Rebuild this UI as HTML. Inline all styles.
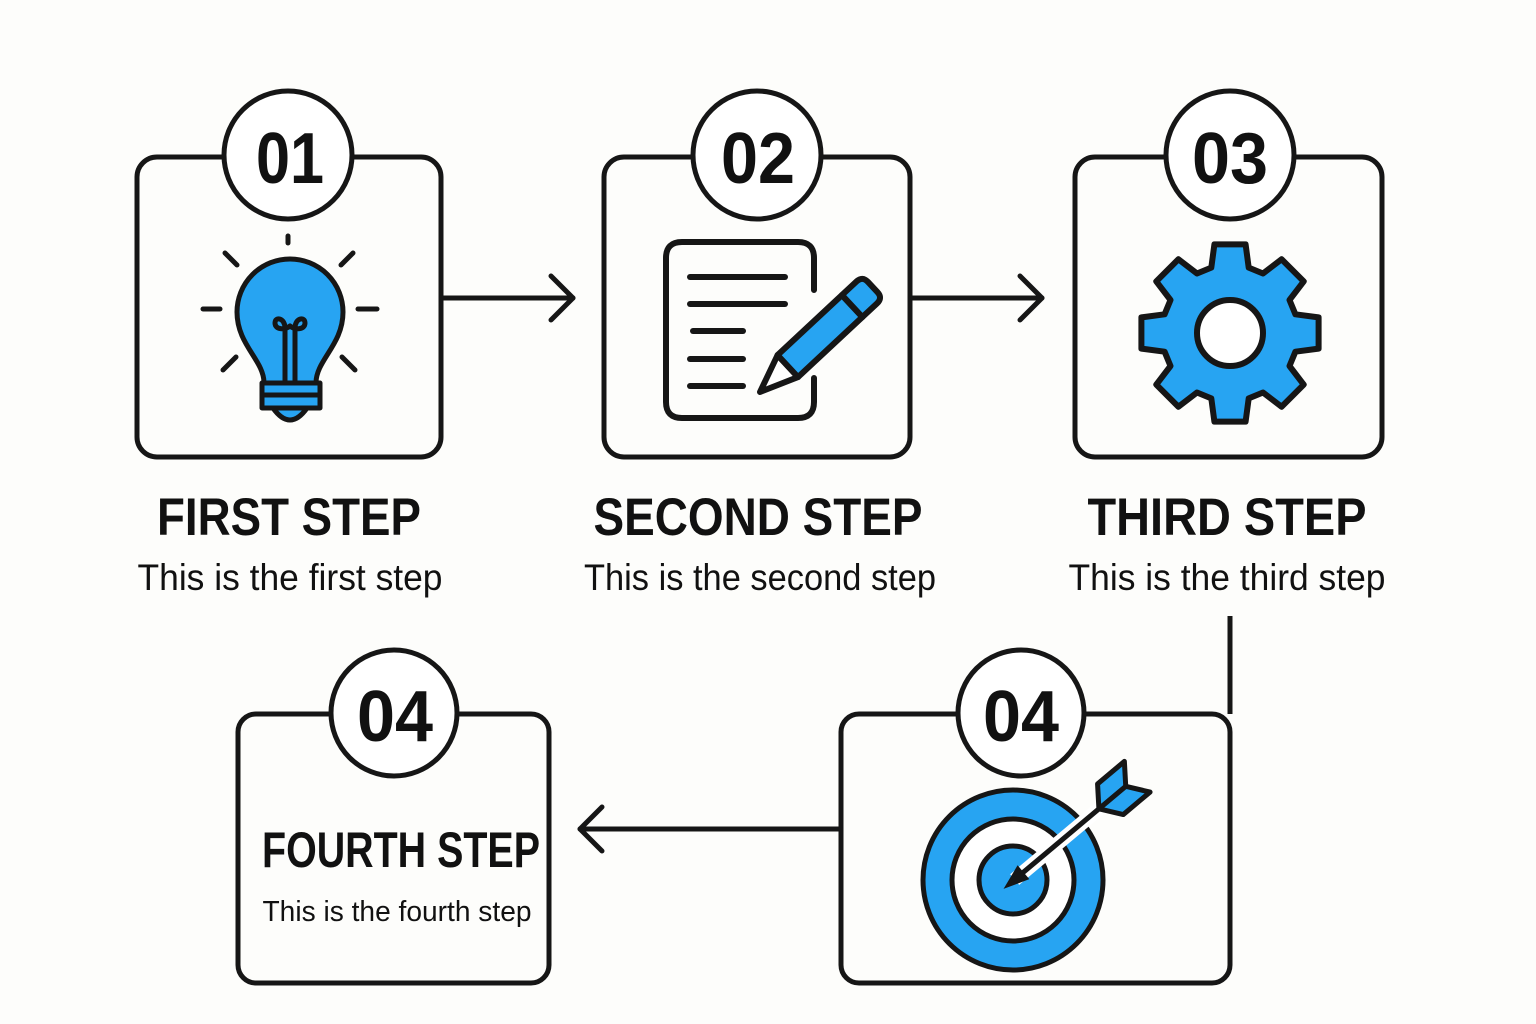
<!DOCTYPE html>
<html><head><meta charset="utf-8"><style>
html,body{margin:0;padding:0;background:#fdfdfb;}
svg{display:block}
text{font-family:"Liberation Sans Narrow","Liberation Sans",sans-serif;fill:#111;}
.t{font-weight:bold;font-size:53px;}
.s{font-size:37px;}
.n{font-weight:bold;font-size:72px;}
</style></head><body>
<svg width="1536" height="1024" viewBox="0 0 1536 1024" xmlns="http://www.w3.org/2000/svg">
<rect width="1536" height="1024" fill="#fdfdfb"/>
<g fill="none" stroke="#161616" stroke-width="5" stroke-linecap="round" stroke-linejoin="round">
 <!-- boxes -->
 <rect x="137" y="157" width="304" height="300" rx="20"/>
 <rect x="604" y="157" width="306" height="300" rx="20"/>
 <rect x="1075" y="157" width="307" height="300" rx="20"/>
 <rect x="238" y="714" width="311" height="269" rx="18"/>
 <rect x="841" y="714" width="389" height="269" rx="18"/>
 <!-- connectors -->
 <line x1="441" y1="298" x2="573" y2="298"/><polyline points="551,276 573,298 551,320"/>
 <line x1="910" y1="298" x2="1042" y2="298"/><polyline points="1020,276 1042,298 1020,320"/>
 <line x1="1230" y1="616" x2="1230" y2="714" stroke-linecap="butt"/>
 <line x1="841" y1="829" x2="580" y2="829"/><polyline points="602,807 580,829 602,851"/>
</g>
<!-- circles -->
<g fill="#fff" stroke="#161616" stroke-width="5">
 <circle cx="288" cy="155" r="64"/>
 <circle cx="757" cy="155" r="64"/>
 <circle cx="1230" cy="155" r="64"/>
 <circle cx="394" cy="713" r="63"/>
 <circle cx="1021" cy="713" r="63"/>
</g>
<text class="n" x="290" y="183" text-anchor="middle" textLength="68" lengthAdjust="spacingAndGlyphs">01</text>
<text class="n" x="758" y="183" text-anchor="middle" textLength="74" lengthAdjust="spacingAndGlyphs">02</text>
<text class="n" x="1230" y="183" text-anchor="middle" textLength="76" lengthAdjust="spacingAndGlyphs">03</text>
<text class="n" x="395" y="741" text-anchor="middle" textLength="76" lengthAdjust="spacingAndGlyphs">04</text>
<text class="n" x="1021" y="741" text-anchor="middle" textLength="76" lengthAdjust="spacingAndGlyphs">04</text>

<!-- bulb -->
<g stroke="#161616" stroke-width="5" stroke-linecap="round" stroke-linejoin="round">
 <g fill="none">
  <line x1="288" y1="236" x2="288" y2="243"/>
  <line x1="225" y1="253" x2="237" y2="265"/><line x1="353" y1="253" x2="341" y2="265"/>
  <line x1="203" y1="309" x2="220" y2="309"/><line x1="358" y1="309" x2="377" y2="309"/>
  <line x1="223" y1="370" x2="236" y2="357"/><line x1="355" y1="370" x2="342" y2="357"/>
 </g>
 <path d="M264,383 C264,360 237,345 237,312 A53,53 0 1 1 343,312 C343,345 316,360 316,383 Z" fill="#27a4f2"/>
 <path d="M273,408 Q290,432 307,408 Z" fill="#27a4f2"/>
 <rect x="262" y="383" width="58" height="25" fill="#27a4f2"/>
 <line x1="262" y1="395" x2="320" y2="395"/>
 <path d="M285,383 L285,328 C285,318 275,316 275,323 C275,330 285,330 290,326 C295,330 305,330 305,323 C305,316 295,318 295,328 L295,383" fill="none"/>
</g>

<!-- document + pencil -->
<g stroke="#161616" stroke-width="6" stroke-linecap="round" fill="none">
 <path d="M814,290 L814,258 Q814,242 798,242 L682,242 Q666,242 666,258 L666,402 Q666,418 682,418 L798,418 Q814,418 814,402 L814,378"/>
 <line x1="690" y1="277" x2="785" y2="277"/>
 <line x1="690" y1="304" x2="785" y2="304"/>
 <line x1="693" y1="331" x2="743" y2="331"/>
 <line x1="690" y1="359" x2="743" y2="359"/>
 <line x1="690" y1="386" x2="743" y2="386"/>
</g>
<g transform="translate(760,392) rotate(-43)" stroke="#161616" stroke-width="6" stroke-linejoin="round">
 <path d="M0,0 L38,-15 L38,15 Z" fill="#fff"/>
 <rect x="38" y="-15" width="88" height="30" fill="#27a4f2"/>
 <path d="M126,-15 L146,-15 Q154,-15 154,-7 L154,7 Q154,15 146,15 L126,15 Z" fill="#27a4f2"/>
</g>

<!-- gear -->
<polygon points="1295.4,314.3 1318.6,317.4 1318.6,348.6 1295.4,351.7 1289.5,366.0 1303.7,384.6 1281.6,406.7 1263.0,392.5 1248.7,398.4 1245.6,421.6 1214.4,421.6 1211.3,398.4 1197.0,392.5 1178.4,406.7 1156.3,384.6 1170.5,366.0 1164.6,351.7 1141.4,348.6 1141.4,317.4 1164.6,314.3 1170.5,300.0 1156.3,281.4 1178.4,259.3 1197.0,273.5 1211.3,267.6 1214.4,244.4 1245.6,244.4 1248.7,267.6 1263.0,273.5 1281.6,259.3 1303.7,281.4 1289.5,300.0" fill="#27a4f2" stroke="#161616" stroke-width="6" stroke-linejoin="round"/>
<circle cx="1230" cy="333" r="33" fill="#fff" stroke="#161616" stroke-width="6"/>

<!-- target -->
<g stroke="#161616" stroke-width="5">
 <circle cx="1013" cy="880" r="90" fill="#27a4f2"/>
 <circle cx="1013" cy="880" r="61" fill="#fff"/>
 <circle cx="1013" cy="880" r="34" fill="#27a4f2"/>
</g>
<g transform="translate(1007,886) rotate(-40)">
 <line x1="10" y1="0" x2="150" y2="0" stroke="#fff" stroke-width="14"/>
 <line x1="10" y1="0" x2="150" y2="0" stroke="#161616" stroke-width="5"/>
 <path d="M0,0 L20,-7 L20,7 Z" fill="#161616" stroke="#161616" stroke-width="3"/>
 <g stroke="#161616" stroke-width="5" stroke-linejoin="round" fill="#27a4f2">
  <path d="M120,0 L135,-20 L170,-20 L155,0 Z"/>
  <path d="M120,0 L135,20 L170,20 L155,0 Z"/>
 </g>
</g>

<!-- labels -->
<text class="t" x="289" y="535" text-anchor="middle" textLength="264" lengthAdjust="spacingAndGlyphs">FIRST STEP</text>
<text class="t" x="758" y="535" text-anchor="middle" textLength="329" lengthAdjust="spacingAndGlyphs">SECOND STEP</text>
<text class="t" x="1227" y="535" text-anchor="middle" textLength="279" lengthAdjust="spacingAndGlyphs">THIRD STEP</text>
<text class="s" x="290" y="590" text-anchor="middle" textLength="305" lengthAdjust="spacingAndGlyphs">This is the first step</text>
<text class="s" x="760" y="590" text-anchor="middle" textLength="352" lengthAdjust="spacingAndGlyphs">This is the second step</text>
<text class="s" x="1227" y="590" text-anchor="middle" textLength="317" lengthAdjust="spacingAndGlyphs">This is the third step</text>
<text class="t" x="401" y="867" text-anchor="middle" style="font-size:50px" textLength="278" lengthAdjust="spacingAndGlyphs">FOURTH STEP</text>
<text class="s" x="397" y="921" text-anchor="middle" style="font-size:29px" textLength="269" lengthAdjust="spacingAndGlyphs">This is the fourth step</text>
</svg>
</body></html>
